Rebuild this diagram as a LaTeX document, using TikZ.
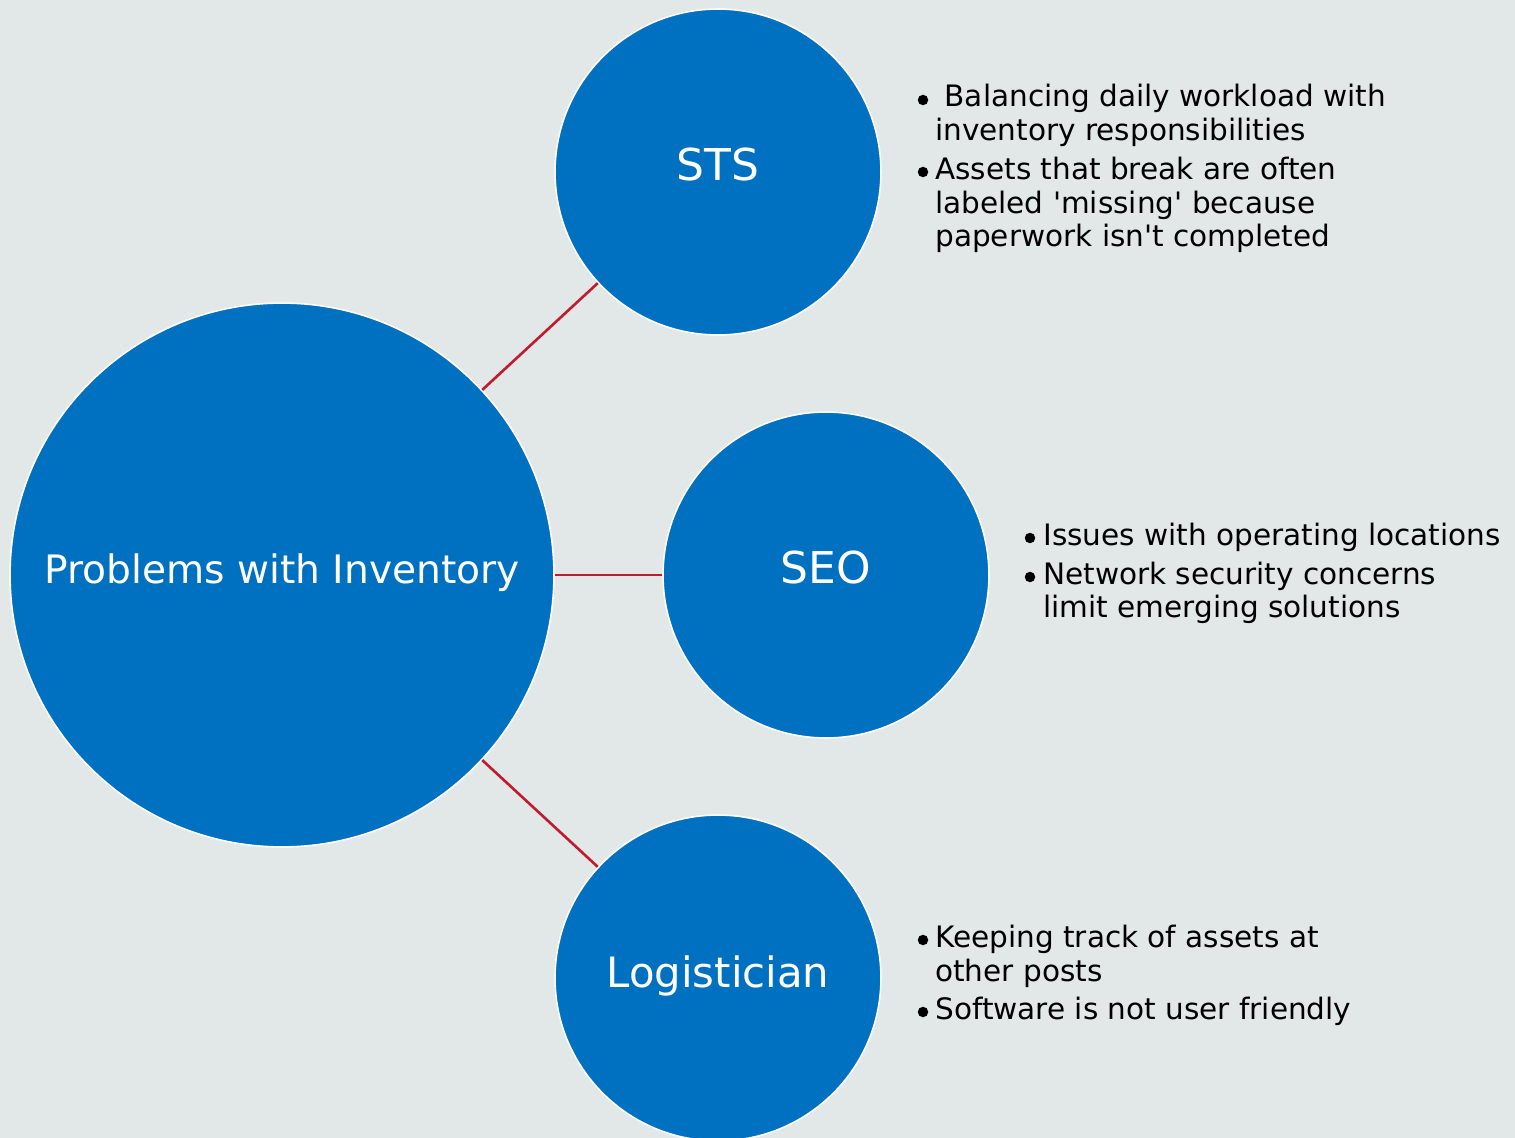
\documentclass[tikz,border=0pt]{standalone}
\usepackage{fontspec}
\setmainfont{DejaVu Sans}
\definecolor{bgc}{RGB}{226,231,231}
\definecolor{bluec}{RGB}{0,112,192}
\definecolor{redc}{RGB}{192,28,48}
\begin{document}
\begin{tikzpicture}[x=0.02cm,y=-0.02cm,
  bubble/.style={circle,fill=bluec,draw=white,line width=0.9pt,text=white,inner sep=0pt,align=center,text height=0.5cm,text depth=0.14cm},
  small/.style={bubble,minimum size=6.52cm,font=\fontsize{25}{28}\selectfont},
  link/.style={draw=redc,line width=1.5pt},
  line/.style={anchor=base west,inner sep=0pt,font=\fontsize{16.8}{18.8}\selectfont},
  dot/.style={circle,fill=black,inner sep=0pt,minimum size=0.21cm}]
\fill[bgc] (0,0) rectangle (1515,1138);
\useasboundingbox (0,0) rectangle (1515,1138);
\node[bubble,minimum size=10.88cm,font=\fontsize{22.3}{26}\selectfont] (main) at (282,575) {Problems with Inventory};
\node[small] (sts) at (718,172) {STS};
\node[small] (seo) at (826,575) {SEO};
\node[small,font=\fontsize{23.8}{26}\selectfont] (log) at (718,978) {Logistician};
\draw[link] (main) -- (sts);
\draw[link] (main) -- (seo);
\draw[link] (main) -- (log);
% STS
\node[dot] (b1) at (923,100) {};
\node[line] (t1a) at (935,107) {\ Balancing daily workload with};
\node[line] (t1b) at (935,141) {inventory responsibilities};
\node[dot] (b2) at (923,172) {};
\node[line] (t2a) at (935,180) {Assets that break are often};
\node[line] (t2b) at (935,214) {labeled \textquotesingle missing\textquotesingle\ because};
\node[line] (t2c) at (935,247) {paperwork isn\textquotesingle t completed};
% SEO
\node[dot] (b3) at (1030,538) {};
\node[line] (t3a) at (1043,545) {Issues with operating locations};
\node[dot] (b4) at (1030,577) {};
\node[line] (t4a) at (1043,584) {Network security concerns};
\node[line] (t4b) at (1043,617) {limit emerging solutions};
% Logistician
\node[dot] (b5) at (923,940) {};
\node[line] (t5a) at (935,947) {Keeping track of assets at};
\node[line] (t5b) at (935,981) {other posts};
\node[dot] (b6) at (923,1012) {};
\node[line] (t6a) at (935,1019) {Software is not user friendly};
\end{tikzpicture}
\end{document}
